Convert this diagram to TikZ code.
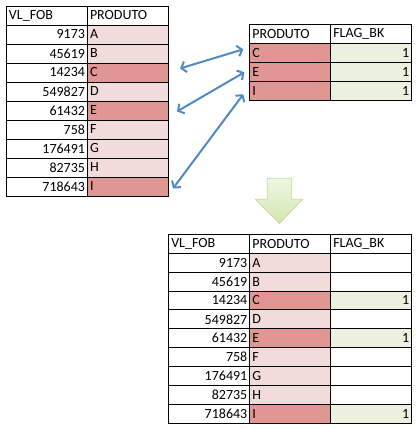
\documentclass[tikz,border=0pt]{standalone}
\usepackage{fontspec}
\setmainfont{Carlito}
\usetikzlibrary{arrows.meta}

\definecolor{prodlight}{HTML}{F2DCDB}
\definecolor{proddark}{HTML}{E09693}
\definecolor{flaggreen}{HTML}{EBF1DE}
\definecolor{linkblue}{HTML}{5089C6}
\definecolor{downtop}{HTML}{EEF6E2}
\definecolor{downbot}{HTML}{D2E7B2}
\definecolor{downrim}{HTML}{C3DB9E}

\tikzset{
  cell/.style={draw, line width=1pt, anchor=north west, minimum height=19pt,
    inner xsep=2.5pt, inner ysep=0pt, text width=76pt, font=\fontsize{14}{16}\selectfont},
  numcell/.style={cell, align=right},
  txtcell/.style={cell, align=left},
  link/.style={linkblue, line width=2pt, line cap=round,
    {Straight Barb[length=4.5pt,width=11pt]}-{Straight Barb[length=4.5pt,width=11pt]}},
  downarrow/.style={draw=downrim, line width=0.8pt, top color=downtop, bottom color=downbot}
}

\begin{document}
\begin{tikzpicture}[x=1pt,y=-1pt]
  \useasboundingbox (0,0) rectangle (419,429);
  % source table
  \node[txtcell] (L-0-1) at (6,5.5) {VL\_FOB};
  \node[txtcell] (L-0-2) at (87,5.5) {PRODUTO};
  \foreach \v/\p/\c [count=\r] in {9173/A/prodlight, 45619/B/prodlight, 14234/C/proddark,
      549827/D/prodlight, 61432/E/proddark, 758/F/prodlight, 176491/G/prodlight,
      82735/H/prodlight, 718643/I/proddark}{
    \node[numcell] (L-\r-1) at (6,5.5+19*\r) {\v};
    \node[txtcell, fill=\c] (L-\r-2) at (87,5.5+19*\r) {\p};
  }
  % lookup table
  \node[txtcell] (R-0-1) at (249.3,24.3) {PRODUTO};
  \node[txtcell] (R-0-2) at (330.3,24.3) {FLAG\_BK};
  \foreach \p [count=\r] in {C,E,I}{
    \node[txtcell, fill=proddark] (R-\r-1) at (249.3,24.3+19*\r) {\p};
    \node[numcell, fill=flaggreen] (R-\r-2) at (330.3,24.3+19*\r) {1};
  }
  \draw[link] ([shift={(11,-4)}]L-3-2.east) -- ([shift={(-6,-4)}]R-1-1.west);
  \draw[link] ([shift={(8,1)}]L-5-2.east) -- ([shift={(-5,0)}]R-2-1.west);
  \draw[link] ([shift={(4,2)}]L-9-2.east) -- ([shift={(-6,3)}]R-3-1.west);
  % down arrow
  \draw[downarrow] (267.3,178.3) -- (291.7,178.3) -- (291.7,199.3) -- (302.7,199.3)
    -- (279.5,223.3) -- (255.5,199.3) -- (267.3,199.3) -- cycle;
  % result table
  \begin{scope}[every node/.append style={minimum height=18.85pt}]
  \node[txtcell] (B-0-1) at (168.3,234) {VL\_FOB};
  \node[txtcell] (B-0-2) at (249.3,234) {PRODUTO};
  \node[txtcell] (B-0-3) at (330.3,234) {FLAG\_BK};
  \foreach \v/\p/\c/\f/\k [count=\r] in {9173/A/prodlight/white/, 45619/B/prodlight/white/,
      14234/C/proddark/flaggreen/1, 549827/D/prodlight/white/, 61432/E/proddark/flaggreen/1,
      758/F/prodlight/white/, 176491/G/prodlight/white/, 82735/H/prodlight/white/,
      718643/I/proddark/flaggreen/1}{
    \node[numcell, minimum height=18.85pt] (B-\r-1) at (168.3,234+18.85*\r) {\v};
    \node[txtcell, minimum height=18.85pt, fill=\c] (B-\r-2) at (249.3,234+18.85*\r) {\p};
    \node[numcell, minimum height=18.85pt, fill=\f] (B-\r-3) at (330.3,234+18.85*\r) {\k};
  }
  \end{scope}
\end{tikzpicture}
\end{document}
